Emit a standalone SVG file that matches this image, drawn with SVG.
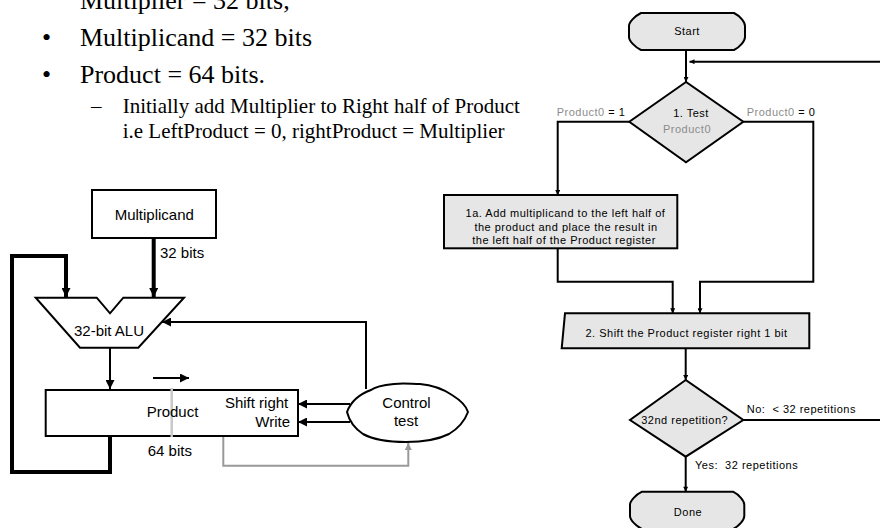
<svg xmlns="http://www.w3.org/2000/svg" width="880" height="528" viewBox="0 0 880 528">
<style>
.tm{font-family:"Liberation Serif","Times New Roman",serif;fill:#000}
.b{font-size:26px}
.s{font-size:21px}
.lt{font-family:"Liberation Sans",Arial,sans-serif;font-size:15px;fill:#000}
.ft{font-family:"Liberation Sans",Arial,sans-serif;font-size:11px;letter-spacing:0.5px;fill:#000}
.gr{fill:#8c8c8c}
.box{fill:#fff;stroke:#000;stroke-width:2}
.fbox{fill:#e6e6e6;stroke:#000;stroke-width:2}
.ln{fill:none;stroke:#000;stroke-width:2}
.thk{fill:none;stroke:#000;stroke-width:4}
.gl{fill:none;stroke:#999;stroke-width:2}
.fl{fill:none;stroke:#000;stroke-width:2}
</style>
<defs>
<marker id="ah" viewBox="0 0 10 10" refX="10" refY="5" markerUnits="userSpaceOnUse" markerWidth="9" markerHeight="9" orient="auto"><path d="M0,0 L10,5 L0,10 z" fill="#000"/></marker>
<marker id="ahg" viewBox="0 0 10 10" refX="10" refY="5" markerUnits="userSpaceOnUse" markerWidth="8" markerHeight="7" orient="auto"><path d="M0,0 L10,5 L0,10 z" fill="#999"/></marker>
<marker id="sa" viewBox="0 0 10 10" refX="10" refY="5" markerUnits="userSpaceOnUse" markerWidth="6" markerHeight="5" orient="auto"><path d="M0,0 L10,5 L0,10 z" fill="#000"/></marker>
</defs>

<g id="bullets">
<text class="tm b" x="42" y="1">•</text>
<text class="tm b" x="80" y="9">Multiplier = 32 bits,</text>
<text class="tm b" x="42" y="46">•</text>
<text class="tm b" x="80" y="46">Multiplicand = 32 bits</text>
<text class="tm b" x="42" y="83">•</text>
<text class="tm b" x="80" y="83">Product = 64 bits.</text>
<text class="tm s" x="91" y="113">–</text>
<text class="tm s" x="122.7" y="113">Initially add Multiplier to Right half of Product</text>
<text class="tm s" x="122.7" y="137.5">i.e LeftProduct = 0, rightProduct = Multiplier</text>
</g>

<g id="connectors">
<!-- left hardware diagram -->
<line class="thk" x1="153.7" y1="238" x2="153.7" y2="297" marker-end="url(#ah)"/>
<polyline class="thk" points="110,436 110,472 12,472 12,256 66,256 66,297" marker-end="url(#ah)"/>
<line class="ln" x1="110" y1="348" x2="110" y2="389" stroke-width="3" marker-end="url(#ah)"/>
<line class="ln" x1="153" y1="378" x2="189" y2="378" marker-end="url(#ah)"/>
<polyline class="ln" points="366,389 366,322 162,322" marker-end="url(#ah)"/>
<line class="ln" x1="350" y1="404" x2="298" y2="404" marker-end="url(#ah)"/>
<line class="ln" x1="350" y1="422" x2="298" y2="422" marker-end="url(#ah)"/>
<polyline class="gl" points="223.3,437 223.3,465.7 408.3,465.7 408.3,443" marker-end="url(#ahg)"/>
<!-- flowchart -->
<line class="fl" x1="686" y1="50" x2="686" y2="82" marker-end="url(#sa)"/>
<line class="fl" x1="880" y1="61.7" x2="689.5" y2="61.7" marker-end="url(#sa)"/>
<polyline class="fl" points="629.3,121.7 557.7,121.7 557.7,195" marker-end="url(#sa)"/>
<polyline class="fl" points="743.3,121.7 813.3,121.7 813.3,281.7 700,281.7 700,313.3" marker-end="url(#sa)"/>
<polyline class="fl" points="557.7,248.3 557.7,281.7 672.7,281.7 672.7,313.3" marker-end="url(#sa)"/>
<line class="fl" x1="685.7" y1="348.3" x2="685.7" y2="380" marker-end="url(#sa)"/>
<line class="fl" x1="743.3" y1="420" x2="880" y2="420"/>
<line class="fl" x1="685.7" y1="456.7" x2="685.7" y2="491.7" marker-end="url(#sa)"/>
</g>

<g id="multiplicand">
<rect class="box" x="92" y="190" width="124" height="48"/>
<text class="lt" x="154.3" y="220" text-anchor="middle">Multiplicand</text>
</g>
<text class="lt" x="160" y="258.3">32 bits</text>

<g id="alu">
<polygon class="box" points="35.7,297.7 96.7,297.7 110,313.3 123.3,297.7 184,297.7 138.3,347.7 80,347.7"/>
<text class="lt" x="74" y="336">32-bit ALU</text>
</g>

<g id="product">
<rect class="box" x="45.7" y="390" width="252.3" height="46"/>
<line x1="171.7" y1="388" x2="171.7" y2="437" stroke="#c8c8c8" stroke-width="2.5"/>
<text class="lt" x="146.7" y="417.3">Product</text>
<text class="lt" x="288.3" y="407.7" text-anchor="end">Shift right</text>
<text class="lt" x="290" y="427.3" text-anchor="end">Write</text>
</g>
<text class="lt" x="147.7" y="456">64 bits</text>

<g id="control">
<path class="box" d="M347,412 C351,401 360,394 371,390 C376,386 384,385 394,384 C403,383 412,384 420,384 C432,385 443,389 452,395 C460,400 466,405 468,412 C465,420 459,428 449,434 C437,440 422,442 406,442 C390,442 374,440 363,434 C354,428 349,420 347,412 Z"/>
<text class="lt" x="382.3" y="408.3">Control</text>
<text class="lt" x="406" y="426" text-anchor="middle">test</text>
</g>

<g id="start">
<path class="fbox" d="M641,13 L734,13 C740,16 745,22 745,26 L745,37 C745,41 740,47 734,50 L641,50 C635,47 629,41 629,37 L629,26 C629,22 635,16 641,13 Z"/>
<text class="ft" x="687" y="34.5" text-anchor="middle">Start</text>
</g>

<g id="test1">
<polygon class="fbox" points="686,82 629.3,121.7 686,162.3 743.3,121.7"/>
<text class="ft" x="691" y="117" text-anchor="middle">1. Test</text>
<text class="ft gr" x="687" y="132.5" text-anchor="middle">Product0</text>
</g>
<text class="ft" x="556.7" y="116"><tspan class="gr">Product0</tspan> = 1</text>
<text class="ft" x="746.7" y="116"><tspan class="gr">Product0</tspan> = 0</text>

<g id="step1a">
<rect class="fbox" x="444" y="195" width="233.3" height="53.3"/>
<text class="ft" x="565.5" y="216.5" text-anchor="middle">1a. Add multiplicand to the left half of</text>
<text class="ft" x="566" y="230.5" text-anchor="middle">the product and place the result in</text>
<text class="ft" x="564" y="244" text-anchor="middle">the left half of the Product register</text>
</g>

<g id="step2">
<path class="fbox" d="M565,313.3 L809.3,313.3 L809.3,348.3 L561.7,348.3 Z"/>
<text class="ft" x="686.5" y="336.7" text-anchor="middle">2. Shift the Product register right 1 bit</text>
</g>

<g id="test2">
<polygon class="fbox" points="685.7,380 630,420 685.7,456.7 743.3,420"/>
<text class="ft" x="684.7" y="424" text-anchor="middle">32nd repetition?</text>
</g>
<text class="ft" x="746.7" y="413.3" xml:space="preserve">No:  &lt; 32 repetitions</text>
<text class="ft" x="695" y="469.3" xml:space="preserve">Yes:  32 repetitions</text>

<g id="done">
<path class="fbox" d="M642,491.7 L733,491.7 C739,494.7 744.3,500.7 744.3,504.7 L744.3,516 C744.3,520 739,526 733,529 L642,529 C636,526 630,520 630,516 L630,504.7 C630,500.7 636,494.7 642,491.7 Z"/>
<text class="ft" x="688" y="515.5" text-anchor="middle">Done</text>
</g>
</svg>
